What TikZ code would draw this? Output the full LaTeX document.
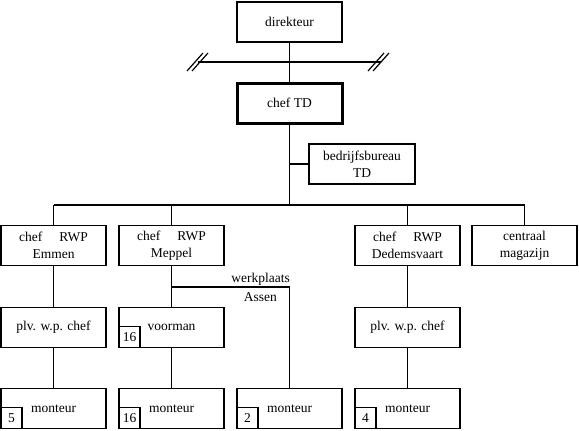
\documentclass[tikz,border=0pt]{standalone}
\usepackage{fontspec}
\setmainfont{Liberation Serif}
\begin{document}
\begin{tikzpicture}[x=1pt,y=-1pt,
  txt/.style={font=\fontsize{13.5}{17}\selectfont},
  box/.style={draw,line width=1.2pt,minimum width=105pt,minimum height=40pt,inner sep=0pt,align=center,txt},
  thickbox/.style={draw,line width=3pt,minimum width=105pt,minimum height=40pt,inner sep=0pt,align=center,txt},
  numbox/.style={draw,line width=1.2pt,minimum width=21pt,minimum height=21pt,inner sep=0pt,anchor=south west,txt},
  conn/.style={line width=1.2pt},
  lbl/.style={txt,inner sep=0pt}]
\useasboundingbox (0,0) rectangle (579,431);
\node[box] (dir) at (289.5,22) {direkteur};
\node[thickbox] (ctd) at (289.5,103) {chef TD};
\node[box,minimum width=106pt] (bur) at (362,164) {bedrijfsbureau\\TD};
\node[box] (emm) at (53.5,245.5) {chef\quad\ RWP\\Emmen};
\node[box] (mep) at (171.5,245.5) {chef\quad\ RWP\\Meppel};
\node[box] (ded) at (407.5,245.5) {chef\quad\ RWP\\Dedemsvaart};
\node[box] (cen) at (524.5,245.5) {centraal\\magazijn};
\node[box] (pe) at (53.5,327.5) {plv. w.p. chef};
\node[box] (vm) at (171.5,327.5) {voorman};
\node[box] (pd) at (407.5,327.5) {plv. w.p. chef};
\node[box] (m1) at (53.5,408.5) {monteur};
\node[box] (m2) at (171.5,408.5) {monteur};
\node[box] (m3) at (289.5,408.5) {monteur};
\node[box] (m4) at (407.5,408.5) {monteur};
\node[numbox] (n16a) at (vm.south west) {16};
\node[numbox] (n5) at (m1.south west) {5};
\node[numbox] (n16b) at (m2.south west) {16};
\node[numbox] (n2) at (m3.south west) {2};
\node[numbox] (n4) at (m4.south west) {4};
% staff line with slashes
\coordinate (sl) at (198,62);
\coordinate (sr) at (381,62);
\draw[conn] (sl) -- (sr);
\foreach \cx in {195,200,376,381}{
  \draw[conn] (\cx-8,71) -- (\cx+8,53);
}
\draw[conn] (dir) -- (ctd);
\coordinate (bus) at (289.5,205);
\draw[conn] (ctd) -- (bus);
\draw[conn] (ctd.south |- bur.west) -- (bur.west);
\draw[conn] (bus -| emm) -- (bus -| cen);
\foreach \n in {emm,mep,ded,cen}{
  \draw[conn] (\n.north) -- (bus -| \n.north);
}
\draw[conn] (emm) -- (pe);
\draw[conn] (pe) -- (m1);
\draw[conn] (mep) -- (vm);
\draw[conn] (vm) -- (m2);
\draw[conn] (ded) -- (pd);
\draw[conn] (pd) -- (m4);
\coordinate (wa) at (171.5,287);
\draw[conn] (wa) -| (m3.north);
\node[lbl,anchor=base east] (wlbl) at (290,282) {werkplaats};
\node[lbl,anchor=base east] (albl) at (277,301) {Assen};
\end{tikzpicture}
\end{document}
